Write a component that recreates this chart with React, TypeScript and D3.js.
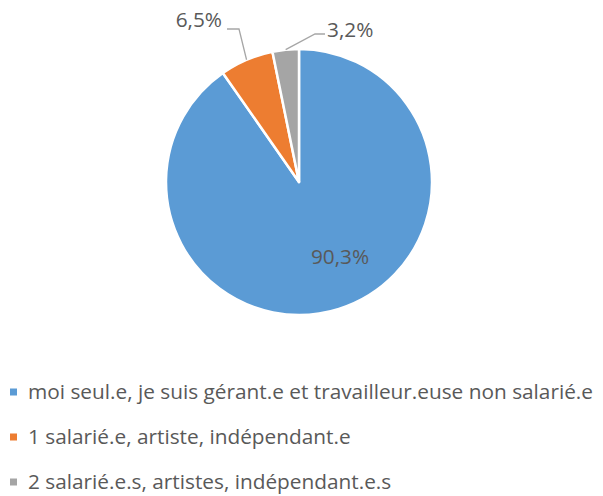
//@ts-nocheck
import * as d3 from 'd3';
import { useEffect, useRef } from 'react';

// data
const categories = [
  'moi seul.e, je suis gérant.e et travailleur.euse non salarié.e',
  '1 salarié.e, artiste, indépendant.e',
  '2 salarié.e.s, artistes, indépendant.e.s',
];
const values = [90.3, 6.5, 3.2];
const colors = ['#5B9BD5', '#ED7D31', '#A5A5A5'];

export default function App() {
  const ref = useRef<SVGSVGElement>(null);

  useEffect(() => {
    const cx = 299;
    const cy = 182;
    const r = 133;
    const font = '"Open Sans", sans-serif';
    const fs = 20.8;
    const textColor = '#595959';

    const svg = d3.select(ref.current);
    svg.selectAll('*').remove();

    const pie = d3.pie<number>().sort(null).value((d) => d);
    const arcs = pie(values);
    const arc = d3.arc<any>().innerRadius(0).outerRadius(r);

    const g = svg.append('g').attr('transform', `translate(${cx},${cy})`);

    g.selectAll('path')
      .data(arcs)
      .join('path')
      .attr('d', arc)
      .attr('fill', (d, i) => colors[i])
      .attr('stroke', '#fff')
      .attr('stroke-width', 2.5)
      .attr('stroke-linejoin', 'round');

    const fmt = (v) => `${d3.format('.1f')(v).replace('.', ',')}%`;
    const polar = (a, rr) => [Math.sin(a) * rr, -Math.cos(a) * rr];
    const mid = (d) => (d.startAngle + d.endAngle) / 2;

    // inside label for the big slice
    g.append('text')
      .attr('x', 41)
      .attr('y', 75)
      .attr('text-anchor', 'middle')
      .attr('dy', '0.35em')
      .attr('font-family', font)
      .attr('font-size', fs)
      .attr('fill', textColor)
      .text(fmt(values[0]));

    // outside labels with leader lines
    const outside = [
      { i: 1, elbow: [-60, -153], end: [-72, -153], tx: -77, ty: -162, anchor: 'end' },
      { i: 2, elbow: [16, -148], end: [26, -148], tx: 28, ty: -152, anchor: 'start' },
    ];
    outside.forEach((o) => {
      const d = arcs[o.i];
      const p0 = polar(mid(d), r);
      g.append('path')
        .attr('d', d3.line()([p0, o.elbow, o.end]))
        .attr('fill', 'none')
        .attr('stroke', '#A6A6A6')
        .attr('stroke-width', 1.3);
      g.append('text')
        .attr('x', o.tx)
        .attr('y', o.ty)
        .attr('dy', '0.35em')
        .attr('text-anchor', o.anchor)
        .attr('font-family', font)
        .attr('font-size', fs)
        .attr('fill', textColor)
        .text(fmt(values[o.i]));
    });

    // legend
    const legend = svg.append('g');
    const items = legend
      .selectAll('g')
      .data(categories)
      .join('g')
      .attr('transform', (d, i) => `translate(10,${392 + i * 45})`);
    items
      .append('rect')
      .attr('x', 0)
      .attr('y', -3.5)
      .attr('width', 7)
      .attr('height', 7)
      .attr('fill', (d, i) => colors[i]);
    items
      .append('text')
      .attr('x', 18)
      .attr('dy', '0.35em')
      .attr('font-family', font)
      .attr('font-size', fs)
      .attr('fill', textColor)
      .text((d) => d);
  }, []);

  return (
    <svg
      ref={ref}
      width={603}
      height={496}
      style={{ position: 'absolute', left: 0, top: 0, background: '#fff' }}
    />
  );
}
